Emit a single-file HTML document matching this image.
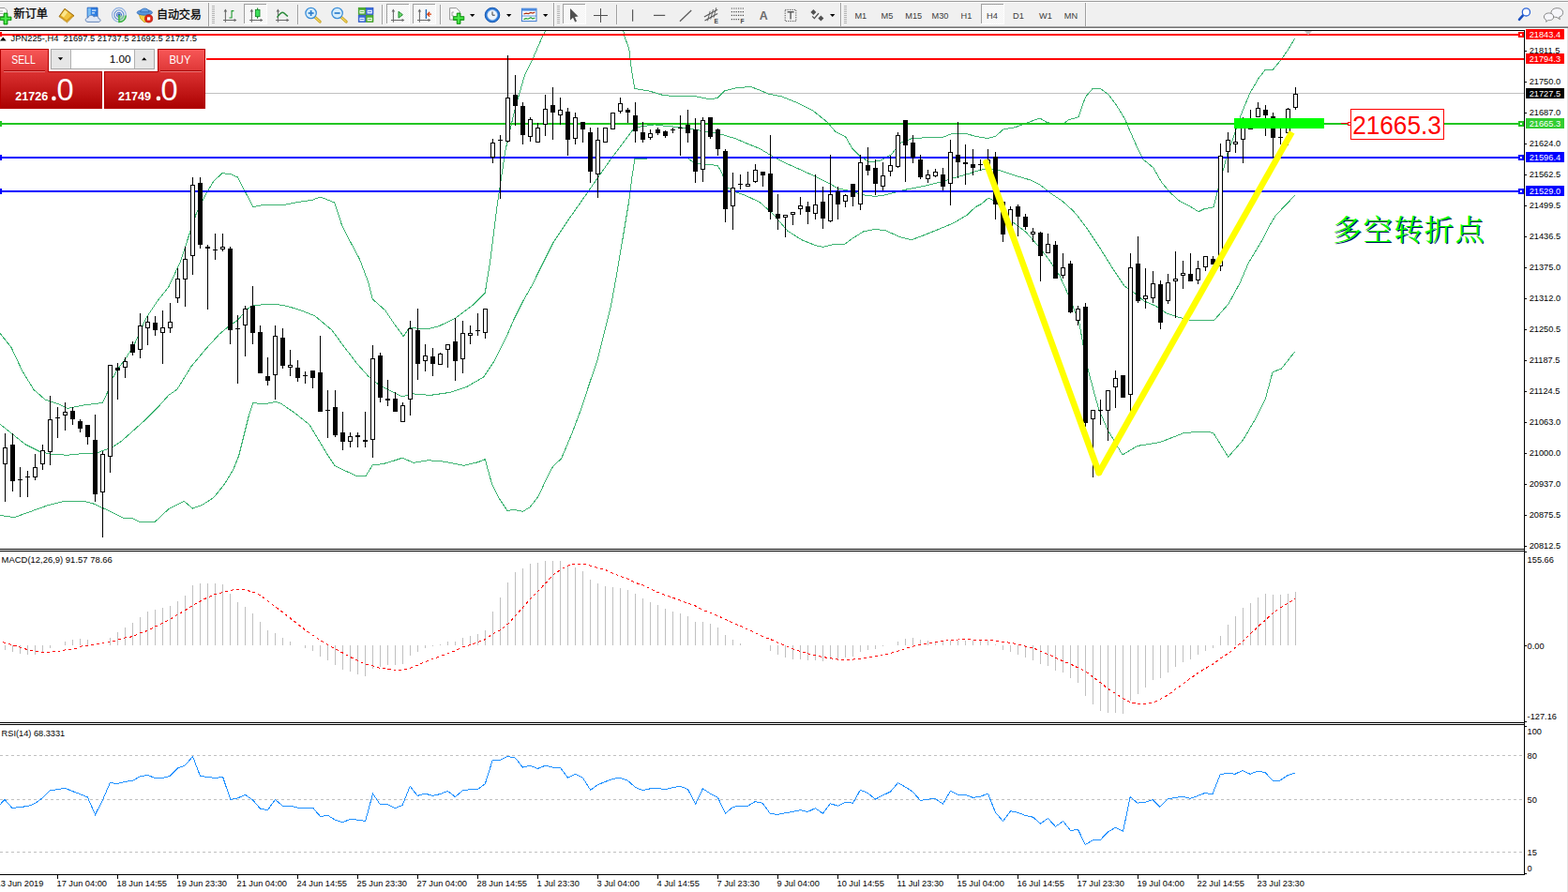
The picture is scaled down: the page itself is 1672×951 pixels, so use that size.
<!DOCTYPE html><html><head><meta charset="utf-8"><title>JPN225 H4</title>
<style>html,body{margin:0;padding:0;background:#fff;overflow:hidden}svg{display:block}text{font-family:"Liberation Sans",sans-serif}</style></head><body>
<svg width="1672" height="951" viewBox="0 0 1672 951">
<defs>
<linearGradient id="gTab" x1="0" y1="0" x2="0" y2="1"><stop offset="0" stop-color="#f85858"/><stop offset="1" stop-color="#dc3434"/></linearGradient>
<linearGradient id="gBlk" x1="0" y1="0" x2="0" y2="1"><stop offset="0" stop-color="#dc3232"/><stop offset="1" stop-color="#aa0000"/></linearGradient>
<pattern id="chk" width="2" height="2" patternUnits="userSpaceOnUse"><rect width="2" height="2" fill="#f0f0f0"/><rect width="1" height="1" fill="#fff"/><rect x="1" y="1" width="1" height="1" fill="#fff"/></pattern>
<clipPath id="cpMain"><rect x="0" y="33" width="1625" height="552"/></clipPath>
</defs>
<rect width="1672" height="951" fill="#fff"/>
<g shape-rendering="crispEdges">
<rect x="0" y="0" width="1672" height="30" fill="#f0f0f0"/>
<rect x="0" y="0" width="1672" height="1" fill="#f4f4f4"/>
<rect x="0" y="1" width="1672" height="1" fill="#9c9c9c"/>
<rect x="0" y="2" width="1672" height="1" fill="#ffffff"/>
<rect x="0" y="28" width="1672" height="1" fill="#a4a4a4"/>
<rect x="0" y="29" width="1672" height="1" fill="#747474"/>
<rect x="0" y="30" width="1672" height="2" fill="#ffffff"/>
<rect x="222" y="3" width="1" height="25" fill="#a0a0a0"/><rect x="223" y="3" width="1" height="25" fill="#fbfbfb"/>
<rect x="317" y="5" width="1" height="21" fill="#a0a0a0"/><rect x="318" y="5" width="1" height="21" fill="#fbfbfb"/>
<rect x="407" y="5" width="1" height="21" fill="#a0a0a0"/><rect x="408" y="5" width="1" height="21" fill="#fbfbfb"/>
<rect x="469" y="5" width="1" height="21" fill="#a0a0a0"/><rect x="470" y="5" width="1" height="21" fill="#fbfbfb"/>
<rect x="590" y="3" width="1" height="25" fill="#a0a0a0"/><rect x="591" y="3" width="1" height="25" fill="#fbfbfb"/>
<rect x="657" y="5" width="1" height="21" fill="#a0a0a0"/><rect x="658" y="5" width="1" height="21" fill="#fbfbfb"/>
<rect x="896" y="3" width="1" height="25" fill="#a0a0a0"/><rect x="897" y="3" width="1" height="25" fill="#fbfbfb"/>
<rect x="1157" y="3" width="1" height="25" fill="#a0a0a0"/><rect x="1158" y="3" width="1" height="25" fill="#fbfbfb"/>
<rect x="226" y="6" width="3" height="1" fill="#b4b4b4"/>
<rect x="226" y="8" width="3" height="1" fill="#b4b4b4"/>
<rect x="226" y="10" width="3" height="1" fill="#b4b4b4"/>
<rect x="226" y="12" width="3" height="1" fill="#b4b4b4"/>
<rect x="226" y="14" width="3" height="1" fill="#b4b4b4"/>
<rect x="226" y="16" width="3" height="1" fill="#b4b4b4"/>
<rect x="226" y="18" width="3" height="1" fill="#b4b4b4"/>
<rect x="226" y="20" width="3" height="1" fill="#b4b4b4"/>
<rect x="226" y="22" width="3" height="1" fill="#b4b4b4"/>
<rect x="226" y="24" width="3" height="1" fill="#b4b4b4"/>
<rect x="594" y="6" width="3" height="1" fill="#b4b4b4"/>
<rect x="594" y="8" width="3" height="1" fill="#b4b4b4"/>
<rect x="594" y="10" width="3" height="1" fill="#b4b4b4"/>
<rect x="594" y="12" width="3" height="1" fill="#b4b4b4"/>
<rect x="594" y="14" width="3" height="1" fill="#b4b4b4"/>
<rect x="594" y="16" width="3" height="1" fill="#b4b4b4"/>
<rect x="594" y="18" width="3" height="1" fill="#b4b4b4"/>
<rect x="594" y="20" width="3" height="1" fill="#b4b4b4"/>
<rect x="594" y="22" width="3" height="1" fill="#b4b4b4"/>
<rect x="594" y="24" width="3" height="1" fill="#b4b4b4"/>
<rect x="900" y="6" width="3" height="1" fill="#b4b4b4"/>
<rect x="900" y="8" width="3" height="1" fill="#b4b4b4"/>
<rect x="900" y="10" width="3" height="1" fill="#b4b4b4"/>
<rect x="900" y="12" width="3" height="1" fill="#b4b4b4"/>
<rect x="900" y="14" width="3" height="1" fill="#b4b4b4"/>
<rect x="900" y="16" width="3" height="1" fill="#b4b4b4"/>
<rect x="900" y="18" width="3" height="1" fill="#b4b4b4"/>
<rect x="900" y="20" width="3" height="1" fill="#b4b4b4"/>
<rect x="900" y="22" width="3" height="1" fill="#b4b4b4"/>
<rect x="900" y="24" width="3" height="1" fill="#b4b4b4"/>
<rect x="260" y="4" width="25" height="22" fill="url(#chk)"/>
<rect x="260" y="4" width="25" height="1" fill="#a0a0a0"/><rect x="260" y="4" width="1" height="22" fill="#a0a0a0"/>
<rect x="260" y="25" width="25" height="1" fill="#fff"/><rect x="284" y="4" width="1" height="22" fill="#fff"/>
<rect x="412" y="4" width="25" height="22" fill="url(#chk)"/>
<rect x="412" y="4" width="25" height="1" fill="#a0a0a0"/><rect x="412" y="4" width="1" height="22" fill="#a0a0a0"/>
<rect x="412" y="25" width="25" height="1" fill="#fff"/><rect x="436" y="4" width="1" height="22" fill="#fff"/>
<rect x="440" y="4" width="25" height="22" fill="url(#chk)"/>
<rect x="440" y="4" width="25" height="1" fill="#a0a0a0"/><rect x="440" y="4" width="1" height="22" fill="#a0a0a0"/>
<rect x="440" y="25" width="25" height="1" fill="#fff"/><rect x="464" y="4" width="1" height="22" fill="#fff"/>
<rect x="600" y="4" width="25" height="22" fill="url(#chk)"/>
<rect x="600" y="4" width="25" height="1" fill="#a0a0a0"/><rect x="600" y="4" width="1" height="22" fill="#a0a0a0"/>
<rect x="600" y="25" width="25" height="1" fill="#fff"/><rect x="624" y="4" width="1" height="22" fill="#fff"/>
<rect x="1046" y="4" width="25" height="22" fill="url(#chk)"/>
<rect x="1046" y="4" width="25" height="1" fill="#a0a0a0"/><rect x="1046" y="4" width="1" height="22" fill="#a0a0a0"/>
<rect x="1046" y="25" width="25" height="1" fill="#fff"/><rect x="1070" y="4" width="1" height="22" fill="#fff"/>
</g>
<path d="M-1 8.5 H5 L7.5 11 V17.5 H-1 Z" fill="#fff" stroke="#909090" stroke-width="0.9"/><path d="M0 12 H3 M0 14.5 H3" stroke="#a0a0a0" stroke-width="0.9"/>
<path d="M4 14 H8 V18 H12 V21.6 H8 V26 H4 V21.6 H0.3 V18 H4 Z" fill="#1fc01f" stroke="#0c8a0c" stroke-width="0.8"/><path d="M5 15 H7 V19 H11 V20.4 H7 V25 H5 V20.4 H1.2 V19 H5 Z" fill="#5af25a" opacity="0.8"/>
<text x="14.6 26.7 38.8" y="18.8" font-size="12.2" fill="#000" stroke="#000" stroke-width="0.27" style="font-family:'Liberation Sans','Noto Sans CJK SC',sans-serif">新订单</text>
<path d="M63 17.6 L69 9.2 L79 16.8 L71.4 24 Z" fill="#d89c1c" stroke="#94680c" stroke-width="0.9" stroke-linejoin="round"/><path d="M64.6 16.8 L69.2 10.6 L76.6 16.2 L71 21.6 Z" fill="#f0c440"/><path d="M65.2 16.2 L69.2 10.8 L72.2 13 L68 18.4 Z" fill="#fbe68c"/><path d="M64 18.8 L71.4 24 L78.4 17.6" fill="none" stroke="#f4e0a0" stroke-width="0.7"/>
<path d="M93.2 8.2 H104 V18.4 H93.2 Z" fill="#2f80e4" stroke="#1858b8" stroke-width="0.9"/><path d="M93.6 8.6 H96.8 V18 H93.6 Z" fill="#7cc0f4"/><path d="M98 10.4 H102.4 V11.8 H98 Z M98 13.2 H101 V14.4 H98 Z" fill="#e4f0fc"/>
<path d="M94 23.4 C90.2 23.4 90.4 19 93.8 19 C94.2 15.8 99.2 15.4 100.2 18 C102 16.4 105.4 17.6 105 19.8 C107.8 19.8 107.8 23.4 105 23.4 Z" fill="#dfe8f6" stroke="#6484b8" stroke-width="1"/>
<g fill="none" stroke-linecap="round"><circle cx="126.9" cy="15.8" r="7.4" stroke="#8fb0e0" stroke-width="1.1"/><circle cx="126.9" cy="15.8" r="5" stroke="#5a8ad4" stroke-width="1.1"/><circle cx="126.9" cy="15.8" r="2.6" stroke="#3a6cc8" stroke-width="1"/></g>
<circle cx="126.9" cy="15.8" r="1.5" fill="#2a5cc0"/><path d="M127 16 V23.4 C131 23.4 134 20.5 134.3 16.5" fill="none" stroke="#3cb43c" stroke-width="1.6"/><path d="M127.6 22.6 C131 22 133 19.5 133.6 16.5 L127.6 16.5 Z" fill="#7fd07f" opacity="0.55"/>
<path d="M148 14.5 L159.5 14 L158 22.5 L154 23.8 L149.8 20 Z" fill="#f4d040" stroke="#c49a18" stroke-width="0.8"/>
<ellipse cx="154.3" cy="13.4" rx="8.2" ry="2.8" fill="#5a96dc" stroke="#2a66b4" stroke-width="0.8"/><path d="M149.6 12.8 C150 7.8 158.6 7.8 159 12.8 Z" fill="#6aa6e8" stroke="#2a66b4" stroke-width="0.8"/>
<circle cx="158.6" cy="19.9" r="4.1" fill="#e02818" stroke="#a81408" stroke-width="0.7"/><rect x="157" y="18.3" width="3.2" height="3.2" fill="#fff"/>
<text x="167 178.9 190.8 202.7" y="19.5" font-size="12.1" fill="#000" stroke="#000" stroke-width="0.27" style="font-family:'Liberation Sans','Noto Sans CJK SC',sans-serif">自动交易</text>
<g stroke="#686868" stroke-width="1.05" fill="none"><path d="M240.4 23.7 V10.5 M238 21.5 H251"/></g><path d="M238.6 12.6 L240.4 9.6 L242.2 12.6 Z M249.6 19.7 L252.4 21.5 L249.6 23.3 Z" fill="#686868"/>
<path d="M246.5 11.1 H249.4 V12.2 H247.6 V19.6 H244.4 V18.5 H246.5 Z" fill="#1e9a2e"/>
<g stroke="#686868" stroke-width="1.05" fill="none"><path d="M268.4 23.7 V10.5 M266 21.5 H279"/></g><path d="M266.6 12.6 L268.4 9.6 L270.2 12.6 Z M277.6 19.7 L280.4 21.5 L277.6 23.3 Z" fill="#686868"/>
<path d="M274.6 8.4 V19.8" stroke="#1e8a2e" stroke-width="1.2"/><rect x="272.4" y="10.4" width="4.6" height="7.2" fill="#3ce05a" stroke="#1e8a2e" stroke-width="0.9"/>
<g stroke="#686868" stroke-width="1.05" fill="none"><path d="M296.4 23.7 V10.5 M294 21.5 H307"/></g><path d="M294.6 12.6 L296.4 9.6 L298.2 12.6 Z M305.6 19.7 L308.4 21.5 L305.6 23.3 Z" fill="#686868"/>
<path d="M295.4 18.6 C297.4 16.4 299 13.2 301.2 13.2 C303.4 13.2 304.6 16.2 307 17.4" fill="none" stroke="#2a8a3a" stroke-width="1.5"/>
<path d="M335.6 18 L341.20000000000005 23.2" stroke="#c8a020" stroke-width="3" stroke-linecap="round"/><path d="M335.6 18 L341.20000000000005 23.2" stroke="#f0d860" stroke-width="1.2" stroke-linecap="round"/>
<circle cx="331.6" cy="14" r="5.7" fill="#d8eefb" stroke="#3c8ed8" stroke-width="1.3"/>
<path d="M328.6 14 H334.6" stroke="#2c7ccc" stroke-width="1.7"/>
<path d="M331.6 11 V17" stroke="#2c7ccc" stroke-width="1.7"/>
<path d="M363.6 18 L369.20000000000005 23.2" stroke="#c8a020" stroke-width="3" stroke-linecap="round"/><path d="M363.6 18 L369.20000000000005 23.2" stroke="#f0d860" stroke-width="1.2" stroke-linecap="round"/>
<circle cx="359.6" cy="14" r="5.7" fill="#d8eefb" stroke="#3c8ed8" stroke-width="1.3"/>
<path d="M356.6 14 H362.6" stroke="#2c7ccc" stroke-width="1.7"/>
<rect x="382.2" y="8.2" width="7.6" height="7.4" fill="#4caf30" stroke="#2f8f18" stroke-width="0.6"/><rect x="383.4" y="10.799999999999999" width="5.2" height="3.6" fill="#fff" opacity="0.92"/><rect x="384.2" y="12.0" width="3.6" height="1" fill="#4caf30" opacity="0.8"/>
<rect x="390.4" y="8.2" width="7.6" height="7.4" fill="#3a6cdc" stroke="#1c48b8" stroke-width="0.6"/><rect x="391.59999999999997" y="10.799999999999999" width="5.2" height="3.6" fill="#fff" opacity="0.92"/><rect x="392.4" y="12.0" width="3.6" height="1" fill="#3a6cdc" opacity="0.8"/>
<rect x="382.2" y="16.2" width="7.6" height="7.4" fill="#3a6cdc" stroke="#1c48b8" stroke-width="0.6"/><rect x="383.4" y="18.8" width="5.2" height="3.6" fill="#fff" opacity="0.92"/><rect x="384.2" y="20.0" width="3.6" height="1" fill="#3a6cdc" opacity="0.8"/>
<rect x="390.4" y="16.2" width="7.6" height="7.4" fill="#4caf30" stroke="#2f8f18" stroke-width="0.6"/><rect x="391.59999999999997" y="18.8" width="5.2" height="3.6" fill="#fff" opacity="0.92"/><rect x="392.4" y="20.0" width="3.6" height="1" fill="#4caf30" opacity="0.8"/>
<g stroke="#686868" stroke-width="1.05" fill="none"><path d="M419.4 23.7 V10.5 M417 21.5 H430"/></g><path d="M417.6 12.6 L419.4 9.6 L421.2 12.6 Z M428.6 19.7 L431.4 21.5 L428.6 23.3 Z" fill="#686868"/>
<path d="M425 12.2 L429.4 15.7 L425 19.2 Z" fill="#6ad86a" stroke="#1e8a2e" stroke-width="1"/>
<g stroke="#686868" stroke-width="1.05" fill="none"><path d="M447.4 23.7 V10.5 M445 21.5 H458"/></g><path d="M445.6 12.6 L447.4 9.6 L449.2 12.6 Z M456.6 19.7 L459.4 21.5 L456.6 23.3 Z" fill="#686868"/>
<path d="M454.4 10 V20" stroke="#1c68b8" stroke-width="1.4"/><path d="M460 15.2 H456.4 M458.2 12.8 L455.8 15.2 L458.2 17.6" fill="none" stroke="#d84010" stroke-width="1.3"/>
<path d="M479.6 8.6 H486.6 L490.2 12 V21 H479.6 Z" fill="#fafafa" stroke="#8c8c8c" stroke-width="0.9"/><path d="M482 13 V17 M482 13 H484 M482 17 H484" fill="none" stroke="#909090" stroke-width="0.8"/>
<path d="M487.2 14 H491 V17.6 H494.8 V21.4 H491 V25.4 H487.2 V21.4 H483.4 V17.6 H487.2 Z" fill="#22c022" stroke="#0c8a0c" stroke-width="0.8"/><path d="M488.2 15 H490 V18.6 H493.8 V20 H490 V24.4 H488.2 V20 H484.4 V18.6 H488.2 Z" fill="#5af25a" opacity="0.8"/>
<path d="M501 15 H506.4 L503.7 18 Z" fill="#000"/>
<path d="M540 15 H545.4 L542.7 18 Z" fill="#000"/>
<path d="M579 15 H584.4 L581.7 18 Z" fill="#000"/>
<path d="M885 15 H890.4 L887.7 18 Z" fill="#000"/>
<circle cx="525" cy="16" r="7.8" fill="#2a7ad8" stroke="#1450a8" stroke-width="0.9"/><circle cx="525" cy="16" r="5.4" fill="#eef4fb" stroke="#9cc0ec" stroke-width="0.6"/><path d="M525 12.4 V16.2 H527.8" fill="none" stroke="#404040" stroke-width="1"/>
<rect x="556.4" y="9.2" width="15.6" height="13.4" fill="#fafcff" stroke="#3a78d0" stroke-width="1"/><rect x="556.4" y="9.2" width="15.6" height="2.4" fill="#4a8ae0"/><path d="M556.4 17 H572" stroke="#3a78d0" stroke-width="0.8"/>
<path d="M558.4 15 L561 14.2 L563.4 14.6 L566 13.4 L568 14 L570.4 13" fill="none" stroke="#b03010" stroke-width="1.2"/><path d="M558.4 20.6 L561 19.6 L563 20.2 L566 18.6 L568 20 L570.4 19" fill="none" stroke="#20a030" stroke-width="1.2"/>
<path d="M608 9 L608 21.4 L611 18.8 L613.2 23.4 L615 22.5 L612.9 18 L616.6 17.6 Z" fill="#505050"/>
<path d="M640.5 9 V23.6 M633 16.4 H648" stroke="#505050" stroke-width="1.1" shape-rendering="crispEdges"/>
<path d="M674.6 10.2 V22.8" stroke="#585858" stroke-width="1.2"/><path d="M697 16.4 H709.2" stroke="#585858" stroke-width="1.2"/><path d="M725 22.8 L737.2 11" stroke="#585858" stroke-width="1.2"/>
<g stroke="#585858" fill="none"><path d="M750.9 17.9 L765.2 10.2 M751.5 22.1 L765.2 14.4" stroke-width="1.1"/><path d="M757.2 11.8 L754.5 22.3 M760.5 10 L757.7 20.5 M763.7 8.2 L761 18.7" stroke-width="0.9"/></g>
<text x="761.6" y="25.4" font-size="6.6" font-weight="bold" fill="#404040">E</text>
<path d="M779.8 9 H793.4" stroke="#505050" stroke-width="1.1" stroke-dasharray="1.2,1.2"/>
<path d="M779.8 12.6 H793.4" stroke="#505050" stroke-width="1.1" stroke-dasharray="1.2,1.2"/>
<path d="M779.8 16.4 H793.4" stroke="#505050" stroke-width="1.1" stroke-dasharray="1.2,1.2"/>
<path d="M779.8 20.6 H788.8" stroke="#505050" stroke-width="1.1" stroke-dasharray="1.2,1.2"/>
<text x="789.6" y="25.4" font-size="6.6" font-weight="bold" fill="#404040">F</text>
<text x="809.8" y="21" font-size="12.4" font-weight="bold" fill="#6a6a6a">A</text>
<rect x="837.2" y="10.4" width="11.6" height="12.2" fill="none" stroke="#505050" stroke-width="1" stroke-dasharray="1.2,1.2"/><path d="M839.6 12.8 H846.6 M843.1 12.8 V20.6" stroke="#585858" stroke-width="1.4"/>
<path d="M864.4 13 L867.4 10 L870.4 13 L867.4 16 Z" fill="#505050"/><path d="M872.4 19.6 L875.4 16.6 L878.4 19.6 L875.4 22.6 Z" fill="#505050"/><path d="M866.2 17.4 L868.4 19.6 L873 14.2" fill="none" stroke="#505050" stroke-width="1.3"/>
<text x="917.8" y="19.9" font-size="9.3" fill="#3c3c3c" text-anchor="middle" textLength="12.8" lengthAdjust="spacingAndGlyphs">M1</text>
<text x="946" y="19.9" font-size="9.3" fill="#3c3c3c" text-anchor="middle" textLength="12.8" lengthAdjust="spacingAndGlyphs">M5</text>
<text x="974.3" y="19.9" font-size="9.3" fill="#3c3c3c" text-anchor="middle" textLength="17.9" lengthAdjust="spacingAndGlyphs">M15</text>
<text x="1002.5" y="19.9" font-size="9.3" fill="#3c3c3c" text-anchor="middle" textLength="17.9" lengthAdjust="spacingAndGlyphs">M30</text>
<text x="1030.5" y="19.9" font-size="9.3" fill="#3c3c3c" text-anchor="middle" textLength="11.8" lengthAdjust="spacingAndGlyphs">H1</text>
<text x="1058" y="19.9" font-size="9.3" fill="#3c3c3c" text-anchor="middle" textLength="11.8" lengthAdjust="spacingAndGlyphs">H4</text>
<text x="1086" y="19.9" font-size="9.3" fill="#3c3c3c" text-anchor="middle" textLength="11.8" lengthAdjust="spacingAndGlyphs">D1</text>
<text x="1115" y="19.9" font-size="9.3" fill="#3c3c3c" text-anchor="middle" textLength="13.8" lengthAdjust="spacingAndGlyphs">W1</text>
<text x="1142" y="19.9" font-size="9.3" fill="#3c3c3c" text-anchor="middle" textLength="14.3" lengthAdjust="spacingAndGlyphs">MN</text>
<path d="M1624.2 16.2 L1620 20.8" stroke="#1c50c0" stroke-width="2.6" stroke-linecap="round"/><circle cx="1627.4" cy="12.9" r="4.1" fill="#fdfdff" stroke="#2c64d8" stroke-width="1.3"/>
<path d="M1654 13.6 C1654 7 1667 7 1666.6 13.6 C1666.4 16.6 1664.4 17.6 1662.6 18 L1663.4 20.6 L1660 18.4 C1656 18.4 1654 16.6 1654 13.6 Z" fill="#f6f6fa" stroke="#7c7c7c" stroke-width="0.9"/>
<path d="M1646.4 18 C1646.4 12.6 1656.8 12.6 1656.6 18 C1656.6 21.2 1653.4 21.8 1650.6 21.6 L1648.8 23.4 L1648.8 21.2 C1647.4 20.6 1646.4 19.6 1646.4 18 Z" fill="#f6f6fa" stroke="#7c7c7c" stroke-width="0.9"/>
<g shape-rendering="crispEdges">
<rect x="0" y="32" width="1626" height="1" fill="#000"/>
<rect x="1625" y="32" width="1" height="901" fill="#000"/>
<rect x="0" y="585" width="1626" height="1" fill="#000"/>
<rect x="0" y="587" width="1626" height="1" fill="#000"/>
<rect x="0" y="770" width="1626" height="1" fill="#000"/>
<rect x="0" y="772" width="1626" height="1" fill="#000"/>
<rect x="0" y="932" width="1626" height="1" fill="#000"/>
<rect x="1671" y="30" width="1" height="921" fill="#e4e4e4"/>
</g>
<g clip-path="url(#cpMain)">
<rect x="0" y="99" width="1625" height="1" fill="#c0c0c0" shape-rendering="crispEdges"/>
<polyline points="0,355.4 12,370.4 24,395.9 36,415.4 47.9,425.9 61.4,430.4 71.9,435.5 89.9,431.9 109.4,429.5 113.9,419.9 119.9,403.4 125.9,392.9 134.9,380.9 143.8,365.9 155.8,339 167.8,321 179.8,306 192,279.8 200.9,252.9 209.9,225.9 218.9,207.9 227.9,192.9 236.9,184.8 245.9,185.4 253.4,189 260.9,203.4 269.9,220.5 281.9,218.4 299.8,219 317.8,215.4 332.8,213.3 341.8,210 356.8,216 364.3,239.4 371.8,254.4 383.7,276.8 392.7,300.8 397.2,318.8 410.7,330.8 419.7,344.3 430.2,358.6 436.4,349.4 455.8,350.9 467.8,347.9 485.8,339 503.8,325.5 517.3,312 522.5,279.7 530,219.8 539,159.9 549.4,114.9 559.9,79 568.9,61 577.9,40 583,30" fill="none" stroke="#3cb371" stroke-width="1" shape-rendering="crispEdges"/>
<polyline points="664,30 666.3,40 670.8,52 673.2,73 676.8,94.5 691.8,96.9 706.8,101.4 721.8,102.9 739.7,102.3 757.7,105.9 765.2,104.4 772.7,96.9 784.7,93.9 800,92.4 810,96 819,100 833.9,103 848.9,109 866.9,118 881.9,130 890.9,140.5 901.4,145.5 908.9,158.4 916.4,165.9 926.8,172.8 938.8,171.3 950.8,164.4 959.8,152.4 971.8,147.9 989.8,146.4 1003.3,147 1016.7,142 1031.7,142.9 1040,145.3 1053,147.5 1061.6,145.3 1070,137.8 1083,135.6 1094,131.3 1109,126 1116.5,130.7 1132.7,133 1139,128 1150,124.8 1157.5,103.3 1165,94.7 1173.6,94.7 1182.3,101 1191,113 1199.5,127 1206,142 1212.5,157 1219,170 1229.7,178.7 1238.3,193.8 1247,204.6 1257.7,214.3 1268.5,219.7 1278,225.7 1283.6,223 1294,220.8 1297.6,206.8 1301,194 1305,178.7 1309.5,161.5 1313.8,150.7 1318,137.8 1322.4,124.8 1326.7,114 1333,99 1341.8,83.9 1349.3,74.2 1357.3,74.2 1365.5,64.5 1373,53.7 1380.6,41.2" fill="none" stroke="#3cb371" stroke-width="1" shape-rendering="crispEdges"/>
<polyline points="0,452.2 12,461.8 27,473.8 42,481.3 53.9,484.3 71.9,485.2 89.9,483.4 101.9,483.4 119.9,476.8 128.9,470.8 140.8,460.3 155.8,446.8 167.8,434.9 179.8,421.4 189,415 203.9,390.7 218.9,372.7 233.9,356.3 242.9,348.8 253.4,341.3 263.9,329.3 269.9,325.4 281.9,324.8 293.8,324.2 305.8,326.3 320.8,330.8 335.8,336.8 353.8,351.8 365.8,368.2 380.7,387.7 392.7,401.2 404.9,410.9 419.9,418.4 428.9,422.9 440.8,419.9 458.8,421.4 479.8,418.4 497.8,412.4 515.8,401.9 527.7,383.9 539.7,359.9 548.7,339 557.7,321 569.7,300 571.9,294.7 589.9,258.8 607.9,231.8 628.9,201.8 649.8,171.9 667.8,147.9 676.8,135.9 697.8,132.9 709.8,134.4 721.8,135.3 736.7,137.4 754.7,140.4 769.7,143.4 784.7,147.9 795,152.4 810,158.4 825,167.4 839.9,174.9 854.9,181.5 869.9,188.4 884.9,195.9 893.9,201.3 902,202.5 911.9,205.5 920.8,207.9 932.8,209.4 940.9,208.5 949,206.4 956.8,204.6 964,202.5 974.8,200.4 989.8,197.4 1004.8,193.5 1019.7,189 1034.7,184.8 1040,182.6 1050.8,180.2 1065.9,181.5 1083,187.4 1098,191.7 1109,197 1119.8,205.7 1132.7,214.3 1143.5,224 1149,230 1160,245 1172,263 1187,287 1199,305 1208,311 1220,321 1232,326 1244,334 1256,338 1268,341 1280,342 1295,341 1310,324 1322,302 1331,281 1340,266 1346,256 1353,242 1360,230 1372,217.5 1380.6,208.5" fill="none" stroke="#3cb371" stroke-width="1" shape-rendering="crispEdges"/>
<polyline points="0,549.3 15,551.7 30,546.3 50.9,538.8 68.9,534.3 89.9,534.6 98.9,536.7 119.9,546.3 131.9,552.6 140.8,552.3 149.8,556.8 164.8,556.8 179.8,542.7 196.3,534.3 205.3,542.1 215.8,538.2 227.7,530.7 239.7,515.8 248.7,500.8 254.7,485.8 260.7,461.8 265.2,443.8 269.7,429.5 281.7,431 293.7,428.3 300,430.4 315,440.8 330,452.8 339,467.8 347.9,482.8 356.9,496.3 368.9,502.3 380.9,507.7 389.9,507.7 397.4,495.7 407.9,494.8 419.9,491.2 428.9,488.2 440.8,493.3 455.8,490.9 467.8,491.2 479.8,493.3 494.8,496.3 509.8,492.7 517.3,489.7 524.5,515.9 532,530.9 541,544.4 548.5,543.5 557.5,545.3 565,540.8 574,529.4 583,509.9 589.6,497.3 598.6,488.9 610,461.9 619,437.9 627.9,410.9 636.9,384 644.4,354 651.9,324 658.8,285.7 664.8,249.8 670.8,213.8 673.8,189.8 676.8,169.5 688.8,169.5 691.8,168.3 730.7,168.3 733.7,168.9 739.7,173.4 754.7,175.5 765.2,176.4 769.7,183.8 774.2,198.8 784.7,204.8 795,208.5 810,215.4 825,228.9 839.9,246.2 854.9,255.8 869.9,261.8 877.4,263.3 887.9,260.9 899.9,260.9 908.9,254.3 920.8,246.8 932.8,244.4 944.8,245.9 959.8,252.8 971.8,255.8 983.8,251.3 998.8,245.3 1016.7,237.8 1031.7,228.9 1040,220.8 1046.5,217.5 1054,211 1062,215 1070,226 1079,236 1094,247.5 1106,261 1118,276 1130,294 1139,314 1145,329 1151,345 1155,368 1160,393 1166,416 1172,437 1181,458 1188,470 1197,485 1213,475.4 1236.8,471.6 1261.4,462 1277.5,460.2 1293.6,461.2 1309.7,487.3 1325.8,468.7 1339,446 1349.4,425.2 1357,396.8 1366.5,393 1380.7,375" fill="none" stroke="#3cb371" stroke-width="1" shape-rendering="crispEdges"/>
<g shape-rendering="crispEdges">
<rect x="0" y="36" width="1625" height="2" fill="#ff0000"/><rect x="0" y="34" width="2" height="5" fill="#ff0000"/>
<rect x="220" y="62" width="1405" height="2" fill="#ff0000"/>
<rect x="0" y="131" width="1625" height="2" fill="#22c622"/><rect x="0" y="129" width="2" height="6" fill="#22c622"/>
<rect x="0" y="167" width="1625" height="2" fill="#0000ff"/><rect x="0" y="165" width="2" height="6" fill="#0000ff"/>
<rect x="0" y="203" width="1625" height="2" fill="#0000ff"/><rect x="0" y="201" width="2" height="6" fill="#0000ff"/>
</g>
<g shape-rendering="crispEdges">
<rect x="5" y="462" width="1" height="73" fill="#000"/>
<rect x="3" y="477" width="5" height="18" fill="#000"/><rect x="4" y="478" width="3" height="16" fill="#fff"/>
<rect x="13" y="462" width="1" height="62" fill="#000"/>
<rect x="11" y="474" width="5" height="39" fill="#000"/>
<rect x="21" y="498" width="1" height="32" fill="#000"/>
<rect x="19" y="511" width="5" height="1" fill="#000"/>
<rect x="29" y="502" width="1" height="28" fill="#000"/>
<rect x="27" y="508" width="5" height="1" fill="#000"/>
<rect x="37" y="484" width="1" height="28" fill="#000"/>
<rect x="35" y="498" width="5" height="11" fill="#000"/><rect x="36" y="499" width="3" height="9" fill="#fff"/>
<rect x="45" y="474" width="1" height="27" fill="#000"/>
<rect x="43" y="480" width="5" height="15" fill="#000"/><rect x="44" y="481" width="3" height="13" fill="#fff"/>
<rect x="53" y="422" width="1" height="74" fill="#000"/>
<rect x="51" y="447" width="5" height="35" fill="#000"/><rect x="52" y="448" width="3" height="33" fill="#fff"/>
<rect x="61" y="434" width="1" height="33" fill="#000"/>
<rect x="59" y="445" width="5" height="1" fill="#000"/>
<rect x="69" y="429" width="1" height="30" fill="#000"/>
<rect x="67" y="439" width="5" height="4" fill="#000"/><rect x="68" y="440" width="3" height="2" fill="#fff"/>
<rect x="77" y="434" width="1" height="19" fill="#000"/>
<rect x="75" y="438" width="5" height="9" fill="#000"/>
<rect x="85" y="447" width="1" height="14" fill="#000"/>
<rect x="83" y="449" width="5" height="8" fill="#000"/>
<rect x="93" y="453" width="1" height="21" fill="#000"/>
<rect x="91" y="453" width="5" height="13" fill="#000"/>
<rect x="101" y="442" width="1" height="93" fill="#000"/>
<rect x="99" y="469" width="5" height="58" fill="#000"/>
<rect x="109" y="481" width="1" height="92" fill="#000"/>
<rect x="107" y="484" width="5" height="41" fill="#000"/><rect x="108" y="485" width="3" height="39" fill="#fff"/>
<rect x="117" y="389" width="1" height="115" fill="#000"/>
<rect x="115" y="389" width="5" height="98" fill="#000"/><rect x="116" y="390" width="3" height="96" fill="#fff"/>
<rect x="125" y="387" width="1" height="39" fill="#000"/>
<rect x="123" y="392" width="5" height="3" fill="#000"/>
<rect x="133" y="381" width="1" height="22" fill="#000"/>
<rect x="131" y="385" width="5" height="7" fill="#000"/><rect x="132" y="386" width="3" height="5" fill="#fff"/>
<rect x="141" y="364" width="1" height="15" fill="#000"/>
<rect x="139" y="367" width="5" height="9" fill="#000"/>
<rect x="149" y="334" width="1" height="48" fill="#000"/>
<rect x="147" y="347" width="5" height="26" fill="#000"/><rect x="148" y="348" width="3" height="24" fill="#fff"/>
<rect x="157" y="337" width="1" height="31" fill="#000"/>
<rect x="155" y="343" width="5" height="7" fill="#000"/><rect x="156" y="344" width="3" height="5" fill="#fff"/>
<rect x="165" y="337" width="1" height="21" fill="#000"/>
<rect x="163" y="344" width="5" height="8" fill="#000"/>
<rect x="173" y="331" width="1" height="57" fill="#000"/>
<rect x="171" y="349" width="5" height="6" fill="#000"/><rect x="172" y="350" width="3" height="4" fill="#fff"/>
<rect x="181" y="323" width="1" height="32" fill="#000"/>
<rect x="179" y="343" width="5" height="7" fill="#000"/><rect x="180" y="344" width="3" height="5" fill="#fff"/>
<rect x="189" y="286" width="1" height="37" fill="#000"/>
<rect x="187" y="297" width="5" height="21" fill="#000"/><rect x="188" y="298" width="3" height="19" fill="#fff"/>
<rect x="197" y="263" width="1" height="64" fill="#000"/>
<rect x="195" y="276" width="5" height="22" fill="#000"/><rect x="196" y="277" width="3" height="20" fill="#fff"/>
<rect x="205" y="189" width="1" height="104" fill="#000"/>
<rect x="203" y="197" width="5" height="76" fill="#000"/><rect x="204" y="198" width="3" height="74" fill="#fff"/>
<rect x="213" y="189" width="1" height="76" fill="#000"/>
<rect x="211" y="195" width="5" height="66" fill="#000"/>
<rect x="221" y="261" width="1" height="69" fill="#000"/>
<rect x="219" y="263" width="5" height="2" fill="#000"/>
<rect x="229" y="249" width="1" height="28" fill="#000"/>
<rect x="227" y="266" width="5" height="1" fill="#000"/>
<rect x="237" y="249" width="1" height="19" fill="#000"/>
<rect x="235" y="263" width="5" height="3" fill="#000"/><rect x="236" y="264" width="3" height="1" fill="#fff"/>
<rect x="245" y="263" width="1" height="104" fill="#000"/>
<rect x="243" y="265" width="5" height="87" fill="#000"/>
<rect x="253" y="336" width="1" height="73" fill="#000"/>
<rect x="251" y="350" width="5" height="1" fill="#000"/>
<rect x="261" y="326" width="1" height="54" fill="#000"/>
<rect x="259" y="329" width="5" height="18" fill="#000"/><rect x="260" y="330" width="3" height="16" fill="#fff"/>
<rect x="269" y="305" width="1" height="62" fill="#000"/>
<rect x="267" y="326" width="5" height="29" fill="#000"/>
<rect x="277" y="347" width="1" height="51" fill="#000"/>
<rect x="275" y="354" width="5" height="44" fill="#000"/>
<rect x="285" y="381" width="1" height="30" fill="#000"/>
<rect x="283" y="401" width="5" height="5" fill="#000"/>
<rect x="293" y="347" width="1" height="79" fill="#000"/>
<rect x="291" y="358" width="5" height="42" fill="#000"/><rect x="292" y="359" width="3" height="40" fill="#fff"/>
<rect x="301" y="350" width="1" height="43" fill="#000"/>
<rect x="299" y="360" width="5" height="30" fill="#000"/>
<rect x="309" y="373" width="1" height="28" fill="#000"/>
<rect x="307" y="389" width="5" height="3" fill="#000"/><rect x="308" y="390" width="3" height="1" fill="#fff"/>
<rect x="317" y="384" width="1" height="23" fill="#000"/>
<rect x="315" y="392" width="5" height="11" fill="#000"/>
<rect x="325" y="396" width="1" height="13" fill="#000"/>
<rect x="323" y="400" width="5" height="1" fill="#000"/>
<rect x="333" y="395" width="1" height="19" fill="#000"/>
<rect x="331" y="395" width="5" height="8" fill="#000"/>
<rect x="341" y="358" width="1" height="81" fill="#000"/>
<rect x="339" y="397" width="5" height="42" fill="#000"/>
<rect x="349" y="416" width="1" height="51" fill="#000"/>
<rect x="347" y="437" width="5" height="1" fill="#000"/>
<rect x="357" y="416" width="1" height="50" fill="#000"/>
<rect x="355" y="434" width="5" height="30" fill="#000"/>
<rect x="365" y="439" width="1" height="41" fill="#000"/>
<rect x="363" y="461" width="5" height="10" fill="#000"/>
<rect x="373" y="461" width="1" height="16" fill="#000"/>
<rect x="371" y="465" width="5" height="6" fill="#000"/><rect x="372" y="466" width="3" height="4" fill="#fff"/>
<rect x="381" y="461" width="1" height="16" fill="#000"/>
<rect x="379" y="464" width="5" height="2" fill="#000"/>
<rect x="389" y="439" width="1" height="38" fill="#000"/>
<rect x="387" y="469" width="5" height="2" fill="#000"/>
<rect x="397" y="368" width="1" height="120" fill="#000"/>
<rect x="395" y="382" width="5" height="87" fill="#000"/><rect x="396" y="383" width="3" height="85" fill="#fff"/>
<rect x="405" y="376" width="1" height="53" fill="#000"/>
<rect x="403" y="379" width="5" height="45" fill="#000"/>
<rect x="413" y="405" width="1" height="28" fill="#000"/>
<rect x="411" y="425" width="5" height="2" fill="#000"/>
<rect x="421" y="418" width="1" height="21" fill="#000"/>
<rect x="419" y="425" width="5" height="14" fill="#000"/>
<rect x="429" y="429" width="1" height="21" fill="#000"/>
<rect x="427" y="432" width="5" height="18" fill="#000"/><rect x="428" y="433" width="3" height="16" fill="#fff"/>
<rect x="437" y="342" width="1" height="101" fill="#000"/>
<rect x="435" y="350" width="5" height="76" fill="#000"/><rect x="436" y="351" width="3" height="74" fill="#fff"/>
<rect x="445" y="329" width="1" height="76" fill="#000"/>
<rect x="443" y="352" width="5" height="36" fill="#000"/>
<rect x="453" y="367" width="1" height="29" fill="#000"/>
<rect x="451" y="379" width="5" height="6" fill="#000"/><rect x="452" y="380" width="3" height="4" fill="#fff"/>
<rect x="461" y="371" width="1" height="30" fill="#000"/>
<rect x="459" y="380" width="5" height="8" fill="#000"/>
<rect x="469" y="376" width="1" height="13" fill="#000"/>
<rect x="467" y="377" width="5" height="12" fill="#000"/><rect x="468" y="378" width="3" height="10" fill="#fff"/>
<rect x="477" y="367" width="1" height="25" fill="#000"/>
<rect x="475" y="367" width="5" height="6" fill="#000"/><rect x="476" y="368" width="3" height="4" fill="#fff"/>
<rect x="485" y="339" width="1" height="67" fill="#000"/>
<rect x="483" y="364" width="5" height="21" fill="#000"/>
<rect x="493" y="342" width="1" height="56" fill="#000"/>
<rect x="491" y="355" width="5" height="28" fill="#000"/><rect x="492" y="356" width="3" height="26" fill="#fff"/>
<rect x="501" y="347" width="1" height="20" fill="#000"/>
<rect x="499" y="355" width="5" height="3" fill="#000"/><rect x="500" y="356" width="3" height="1" fill="#fff"/>
<rect x="509" y="334" width="1" height="24" fill="#000"/>
<rect x="507" y="352" width="5" height="1" fill="#000"/>
<rect x="517" y="329" width="1" height="32" fill="#000"/>
<rect x="515" y="329" width="5" height="26" fill="#000"/><rect x="516" y="330" width="3" height="24" fill="#fff"/>
<rect x="525" y="148" width="1" height="26" fill="#000"/>
<rect x="523" y="152" width="5" height="16" fill="#000"/><rect x="524" y="153" width="3" height="14" fill="#fff"/>
<rect x="533" y="144" width="1" height="68" fill="#000"/>
<rect x="531" y="149" width="5" height="1" fill="#000"/>
<rect x="541" y="59" width="1" height="93" fill="#000"/>
<rect x="539" y="104" width="5" height="47" fill="#000"/><rect x="540" y="105" width="3" height="45" fill="#fff"/>
<rect x="549" y="80" width="1" height="54" fill="#000"/>
<rect x="547" y="101" width="5" height="12" fill="#000"/>
<rect x="557" y="109" width="1" height="45" fill="#000"/>
<rect x="555" y="113" width="5" height="31" fill="#000"/>
<rect x="565" y="125" width="1" height="26" fill="#000"/>
<rect x="563" y="127" width="5" height="19" fill="#000"/><rect x="564" y="128" width="3" height="17" fill="#fff"/>
<rect x="573" y="131" width="1" height="21" fill="#000"/>
<rect x="571" y="136" width="5" height="16" fill="#000"/><rect x="572" y="137" width="3" height="14" fill="#fff"/>
<rect x="581" y="101" width="1" height="44" fill="#000"/>
<rect x="579" y="116" width="5" height="17" fill="#000"/><rect x="580" y="117" width="3" height="15" fill="#fff"/>
<rect x="589" y="93" width="1" height="56" fill="#000"/>
<rect x="587" y="112" width="5" height="8" fill="#000"/>
<rect x="597" y="104" width="1" height="29" fill="#000"/>
<rect x="595" y="117" width="5" height="6" fill="#000"/><rect x="596" y="118" width="3" height="4" fill="#fff"/>
<rect x="605" y="115" width="1" height="51" fill="#000"/>
<rect x="603" y="119" width="5" height="30" fill="#000"/>
<rect x="613" y="120" width="1" height="34" fill="#000"/>
<rect x="611" y="125" width="5" height="23" fill="#000"/><rect x="612" y="126" width="3" height="21" fill="#fff"/>
<rect x="621" y="130" width="1" height="22" fill="#000"/>
<rect x="619" y="130" width="5" height="8" fill="#000"/>
<rect x="629" y="136" width="1" height="59" fill="#000"/>
<rect x="627" y="141" width="5" height="42" fill="#000"/>
<rect x="637" y="136" width="1" height="75" fill="#000"/>
<rect x="635" y="149" width="5" height="37" fill="#000"/><rect x="636" y="150" width="3" height="35" fill="#fff"/>
<rect x="645" y="136" width="1" height="16" fill="#000"/>
<rect x="643" y="136" width="5" height="16" fill="#000"/><rect x="644" y="137" width="3" height="14" fill="#fff"/>
<rect x="653" y="120" width="1" height="18" fill="#000"/>
<rect x="651" y="120" width="5" height="18" fill="#000"/><rect x="652" y="121" width="3" height="16" fill="#fff"/>
<rect x="661" y="104" width="1" height="17" fill="#000"/>
<rect x="659" y="110" width="5" height="9" fill="#000"/><rect x="660" y="111" width="3" height="7" fill="#fff"/>
<rect x="669" y="115" width="1" height="16" fill="#000"/>
<rect x="667" y="117" width="5" height="3" fill="#000"/>
<rect x="677" y="109" width="1" height="43" fill="#000"/>
<rect x="675" y="123" width="5" height="17" fill="#000"/>
<rect x="685" y="130" width="1" height="22" fill="#000"/>
<rect x="683" y="141" width="5" height="8" fill="#000"/>
<rect x="693" y="138" width="1" height="11" fill="#000"/>
<rect x="691" y="142" width="5" height="5" fill="#000"/><rect x="692" y="143" width="3" height="3" fill="#fff"/>
<rect x="701" y="136" width="1" height="8" fill="#000"/>
<rect x="699" y="138" width="5" height="4" fill="#000"/>
<rect x="709" y="139" width="1" height="8" fill="#000"/>
<rect x="707" y="140" width="5" height="5" fill="#000"/>
<rect x="717" y="136" width="1" height="6" fill="#000"/>
<rect x="715" y="138" width="5" height="1" fill="#000"/>
<rect x="725" y="123" width="1" height="43" fill="#000"/>
<rect x="723" y="136" width="5" height="1" fill="#000"/>
<rect x="733" y="117" width="1" height="35" fill="#000"/>
<rect x="731" y="133" width="5" height="9" fill="#000"/>
<rect x="741" y="126" width="1" height="69" fill="#000"/>
<rect x="739" y="138" width="5" height="45" fill="#000"/>
<rect x="749" y="125" width="1" height="69" fill="#000"/>
<rect x="747" y="128" width="5" height="53" fill="#000"/><rect x="748" y="129" width="3" height="51" fill="#fff"/>
<rect x="757" y="125" width="1" height="23" fill="#000"/>
<rect x="755" y="125" width="5" height="21" fill="#000"/>
<rect x="765" y="137" width="1" height="29" fill="#000"/>
<rect x="763" y="138" width="5" height="21" fill="#000"/>
<rect x="773" y="159" width="1" height="78" fill="#000"/>
<rect x="771" y="161" width="5" height="62" fill="#000"/>
<rect x="781" y="184" width="1" height="61" fill="#000"/>
<rect x="779" y="200" width="5" height="20" fill="#000"/><rect x="780" y="201" width="3" height="18" fill="#fff"/>
<rect x="789" y="186" width="1" height="16" fill="#000"/>
<rect x="787" y="196" width="5" height="1" fill="#000"/>
<rect x="797" y="183" width="1" height="16" fill="#000"/>
<rect x="795" y="196" width="5" height="3" fill="#000"/><rect x="796" y="197" width="3" height="1" fill="#fff"/>
<rect x="805" y="175" width="1" height="20" fill="#000"/>
<rect x="803" y="181" width="5" height="13" fill="#000"/><rect x="804" y="182" width="3" height="11" fill="#fff"/>
<rect x="813" y="183" width="1" height="16" fill="#000"/>
<rect x="811" y="183" width="5" height="4" fill="#000"/>
<rect x="821" y="144" width="1" height="90" fill="#000"/>
<rect x="819" y="185" width="5" height="41" fill="#000"/>
<rect x="829" y="207" width="1" height="38" fill="#000"/>
<rect x="827" y="228" width="5" height="5" fill="#000"/>
<rect x="837" y="229" width="1" height="24" fill="#000"/>
<rect x="835" y="229" width="5" height="3" fill="#000"/><rect x="836" y="230" width="3" height="1" fill="#fff"/>
<rect x="845" y="226" width="1" height="14" fill="#000"/>
<rect x="843" y="226" width="5" height="3" fill="#000"/><rect x="844" y="227" width="3" height="1" fill="#fff"/>
<rect x="853" y="210" width="1" height="19" fill="#000"/>
<rect x="851" y="219" width="5" height="4" fill="#000"/><rect x="852" y="220" width="3" height="2" fill="#fff"/>
<rect x="861" y="215" width="1" height="24" fill="#000"/>
<rect x="859" y="220" width="5" height="6" fill="#000"/>
<rect x="869" y="186" width="1" height="48" fill="#000"/>
<rect x="867" y="218" width="5" height="10" fill="#000"/><rect x="868" y="219" width="3" height="8" fill="#fff"/>
<rect x="877" y="199" width="1" height="45" fill="#000"/>
<rect x="875" y="215" width="5" height="18" fill="#000"/>
<rect x="885" y="165" width="1" height="72" fill="#000"/>
<rect x="883" y="207" width="5" height="29" fill="#000"/><rect x="884" y="208" width="3" height="27" fill="#fff"/>
<rect x="893" y="199" width="1" height="35" fill="#000"/>
<rect x="891" y="204" width="5" height="14" fill="#000"/>
<rect x="901" y="207" width="1" height="14" fill="#000"/>
<rect x="899" y="208" width="5" height="7" fill="#000"/><rect x="900" y="209" width="3" height="5" fill="#fff"/>
<rect x="909" y="196" width="1" height="24" fill="#000"/>
<rect x="907" y="196" width="5" height="14" fill="#000"/>
<rect x="917" y="165" width="1" height="59" fill="#000"/>
<rect x="915" y="173" width="5" height="45" fill="#000"/><rect x="916" y="174" width="3" height="43" fill="#fff"/>
<rect x="925" y="157" width="1" height="30" fill="#000"/>
<rect x="923" y="176" width="5" height="6" fill="#000"/>
<rect x="933" y="170" width="1" height="38" fill="#000"/>
<rect x="931" y="179" width="5" height="17" fill="#000"/>
<rect x="941" y="173" width="1" height="30" fill="#000"/>
<rect x="939" y="187" width="5" height="12" fill="#000"/><rect x="940" y="188" width="3" height="10" fill="#fff"/>
<rect x="949" y="166" width="1" height="22" fill="#000"/>
<rect x="947" y="176" width="5" height="7" fill="#000"/><rect x="948" y="177" width="3" height="5" fill="#fff"/>
<rect x="957" y="141" width="1" height="38" fill="#000"/>
<rect x="955" y="144" width="5" height="34" fill="#000"/><rect x="956" y="145" width="3" height="32" fill="#fff"/>
<rect x="965" y="128" width="1" height="66" fill="#000"/>
<rect x="963" y="128" width="5" height="27" fill="#000"/>
<rect x="973" y="144" width="1" height="30" fill="#000"/>
<rect x="971" y="152" width="5" height="16" fill="#000"/>
<rect x="981" y="165" width="1" height="26" fill="#000"/>
<rect x="979" y="170" width="5" height="19" fill="#000"/>
<rect x="989" y="181" width="1" height="14" fill="#000"/>
<rect x="987" y="186" width="5" height="5" fill="#000"/><rect x="988" y="187" width="3" height="3" fill="#fff"/>
<rect x="997" y="180" width="1" height="9" fill="#000"/>
<rect x="995" y="183" width="5" height="5" fill="#000"/><rect x="996" y="184" width="3" height="3" fill="#fff"/>
<rect x="1005" y="179" width="1" height="24" fill="#000"/>
<rect x="1003" y="186" width="5" height="13" fill="#000"/>
<rect x="1013" y="149" width="1" height="70" fill="#000"/>
<rect x="1011" y="162" width="5" height="34" fill="#000"/><rect x="1012" y="163" width="3" height="32" fill="#fff"/>
<rect x="1021" y="130" width="1" height="60" fill="#000"/>
<rect x="1019" y="165" width="5" height="8" fill="#000"/>
<rect x="1029" y="154" width="1" height="43" fill="#000"/>
<rect x="1027" y="173" width="5" height="2" fill="#000"/>
<rect x="1037" y="159" width="1" height="28" fill="#000"/>
<rect x="1035" y="175" width="5" height="4" fill="#000"/>
<rect x="1045" y="170" width="1" height="12" fill="#000"/>
<rect x="1043" y="175" width="5" height="1" fill="#000"/>
<rect x="1053" y="159" width="1" height="19" fill="#000"/>
<rect x="1051" y="170" width="5" height="6" fill="#000"/><rect x="1052" y="171" width="3" height="4" fill="#fff"/>
<rect x="1061" y="162" width="1" height="72" fill="#000"/>
<rect x="1059" y="167" width="5" height="51" fill="#000"/>
<rect x="1069" y="215" width="1" height="43" fill="#000"/>
<rect x="1067" y="215" width="5" height="35" fill="#000"/>
<rect x="1077" y="220" width="1" height="24" fill="#000"/>
<rect x="1075" y="223" width="5" height="18" fill="#000"/><rect x="1076" y="224" width="3" height="16" fill="#fff"/>
<rect x="1085" y="218" width="1" height="34" fill="#000"/>
<rect x="1083" y="220" width="5" height="11" fill="#000"/>
<rect x="1093" y="228" width="1" height="17" fill="#000"/>
<rect x="1091" y="231" width="5" height="11" fill="#000"/>
<rect x="1101" y="243" width="1" height="15" fill="#000"/>
<rect x="1099" y="247" width="5" height="3" fill="#000"/><rect x="1100" y="248" width="3" height="1" fill="#fff"/>
<rect x="1109" y="247" width="1" height="53" fill="#000"/>
<rect x="1107" y="248" width="5" height="25" fill="#000"/>
<rect x="1117" y="249" width="1" height="21" fill="#000"/>
<rect x="1115" y="260" width="5" height="10" fill="#000"/><rect x="1116" y="261" width="3" height="8" fill="#fff"/>
<rect x="1125" y="257" width="1" height="40" fill="#000"/>
<rect x="1123" y="261" width="5" height="36" fill="#000"/>
<rect x="1133" y="270" width="1" height="27" fill="#000"/>
<rect x="1131" y="285" width="5" height="9" fill="#000"/><rect x="1132" y="286" width="3" height="7" fill="#fff"/>
<rect x="1141" y="278" width="1" height="56" fill="#000"/>
<rect x="1139" y="281" width="5" height="52" fill="#000"/>
<rect x="1149" y="326" width="1" height="21" fill="#000"/>
<rect x="1147" y="329" width="5" height="13" fill="#000"/><rect x="1148" y="330" width="3" height="11" fill="#fff"/>
<rect x="1157" y="323" width="1" height="132" fill="#000"/>
<rect x="1155" y="327" width="5" height="124" fill="#000"/>
<rect x="1165" y="437" width="1" height="72" fill="#000"/>
<rect x="1163" y="437" width="5" height="10" fill="#000"/><rect x="1164" y="438" width="3" height="8" fill="#fff"/>
<rect x="1173" y="426" width="1" height="27" fill="#000"/>
<rect x="1171" y="437" width="5" height="1" fill="#000"/>
<rect x="1181" y="416" width="1" height="54" fill="#000"/>
<rect x="1179" y="416" width="5" height="22" fill="#000"/><rect x="1180" y="417" width="3" height="20" fill="#fff"/>
<rect x="1189" y="395" width="1" height="40" fill="#000"/>
<rect x="1187" y="403" width="5" height="10" fill="#000"/><rect x="1188" y="404" width="3" height="8" fill="#fff"/>
<rect x="1197" y="400" width="1" height="24" fill="#000"/>
<rect x="1195" y="400" width="5" height="24" fill="#000"/>
<rect x="1205" y="270" width="1" height="169" fill="#000"/>
<rect x="1203" y="285" width="5" height="136" fill="#000"/><rect x="1204" y="286" width="3" height="134" fill="#fff"/>
<rect x="1213" y="252" width="1" height="71" fill="#000"/>
<rect x="1211" y="281" width="5" height="40" fill="#000"/>
<rect x="1221" y="286" width="1" height="43" fill="#000"/>
<rect x="1219" y="315" width="5" height="4" fill="#000"/><rect x="1220" y="316" width="3" height="2" fill="#fff"/>
<rect x="1229" y="289" width="1" height="34" fill="#000"/>
<rect x="1227" y="302" width="5" height="16" fill="#000"/><rect x="1228" y="303" width="3" height="14" fill="#fff"/>
<rect x="1237" y="299" width="1" height="52" fill="#000"/>
<rect x="1235" y="303" width="5" height="41" fill="#000"/>
<rect x="1245" y="292" width="1" height="32" fill="#000"/>
<rect x="1243" y="301" width="5" height="20" fill="#000"/><rect x="1244" y="302" width="3" height="18" fill="#fff"/>
<rect x="1253" y="268" width="1" height="71" fill="#000"/>
<rect x="1251" y="297" width="5" height="3" fill="#000"/><rect x="1252" y="298" width="3" height="1" fill="#fff"/>
<rect x="1261" y="278" width="1" height="30" fill="#000"/>
<rect x="1259" y="291" width="5" height="3" fill="#000"/><rect x="1260" y="292" width="3" height="1" fill="#fff"/>
<rect x="1269" y="270" width="1" height="30" fill="#000"/>
<rect x="1267" y="292" width="5" height="8" fill="#000"/>
<rect x="1277" y="278" width="1" height="25" fill="#000"/>
<rect x="1275" y="286" width="5" height="13" fill="#000"/><rect x="1276" y="287" width="3" height="11" fill="#fff"/>
<rect x="1285" y="273" width="1" height="16" fill="#000"/>
<rect x="1283" y="273" width="5" height="12" fill="#000"/><rect x="1284" y="274" width="3" height="10" fill="#fff"/>
<rect x="1293" y="273" width="1" height="9" fill="#000"/>
<rect x="1291" y="276" width="5" height="6" fill="#000"/>
<rect x="1301" y="153" width="1" height="136" fill="#000"/>
<rect x="1299" y="166" width="5" height="118" fill="#000"/><rect x="1300" y="167" width="3" height="116" fill="#fff"/>
<rect x="1309" y="141" width="1" height="43" fill="#000"/>
<rect x="1307" y="149" width="5" height="13" fill="#000"/><rect x="1308" y="150" width="3" height="11" fill="#fff"/>
<rect x="1317" y="137" width="1" height="26" fill="#000"/>
<rect x="1315" y="151" width="5" height="3" fill="#000"/><rect x="1316" y="152" width="3" height="1" fill="#fff"/>
<rect x="1325" y="125" width="1" height="49" fill="#000"/>
<rect x="1323" y="126" width="5" height="23" fill="#000"/><rect x="1324" y="127" width="3" height="21" fill="#fff"/>
<rect x="1333" y="117" width="1" height="21" fill="#000"/>
<rect x="1331" y="137" width="5" height="1" fill="#000"/>
<rect x="1341" y="109" width="1" height="16" fill="#000"/>
<rect x="1339" y="115" width="5" height="10" fill="#000"/><rect x="1340" y="116" width="3" height="8" fill="#fff"/>
<rect x="1349" y="112" width="1" height="33" fill="#000"/>
<rect x="1347" y="117" width="5" height="6" fill="#000"/>
<rect x="1357" y="120" width="1" height="48" fill="#000"/>
<rect x="1355" y="124" width="5" height="23" fill="#000"/>
<rect x="1365" y="137" width="1" height="17" fill="#000"/>
<rect x="1363" y="146" width="5" height="1" fill="#000"/>
<rect x="1373" y="115" width="1" height="40" fill="#000"/>
<rect x="1371" y="116" width="5" height="26" fill="#000"/><rect x="1372" y="117" width="3" height="24" fill="#fff"/>
<rect x="1381" y="93" width="1" height="24" fill="#000"/>
<rect x="1379" y="100" width="5" height="15" fill="#000"/><rect x="1380" y="101" width="3" height="13" fill="#fff"/>
</g>
<g shape-rendering="crispEdges">
<rect x="1619" y="34" width="6" height="6" fill="#ff0000"/><rect x="1621" y="36" width="2" height="2" fill="#fff"/>
<rect x="1619" y="129" width="6" height="6" fill="#22c622"/><rect x="1621" y="131" width="2" height="2" fill="#fff"/>
<rect x="1619" y="165" width="6" height="6" fill="#0000ff"/><rect x="1621" y="167" width="2" height="2" fill="#fff"/>
<rect x="1619" y="201" width="6" height="6" fill="#0000ff"/><rect x="1621" y="203" width="2" height="2" fill="#fff"/>
</g>
<g stroke="#ffff00" stroke-width="6.6" fill="none"><line x1="1051.5" y1="173.2" x2="1171.8" y2="504" stroke-linecap="round"/><line x1="1171.8" y1="504" x2="1377.6" y2="140.8" stroke-linecap="butt"/></g><circle cx="1171.8" cy="504" r="3.3" fill="#ffff00"/>
<rect x="1316" y="126" width="96" height="11" fill="#00ff00" shape-rendering="crispEdges"/>
<g shape-rendering="crispEdges"><rect x="1430" y="131" width="8" height="1" fill="#ff0000"/><rect x="1437" y="130" width="4" height="4" fill="#ff0000"/><rect x="1438" y="131" width="2" height="2" fill="#fff"/>
<rect x="1440.5" y="116.5" width="99" height="32" fill="#fff" stroke="#ff0000" stroke-width="1"/></g>
<text x="1442.2" y="143" font-size="27.2" fill="#ff0000" textLength="94.6" lengthAdjust="spacingAndGlyphs">21665.3</text>
<path d="M1391 33 L1399 33 L1395 37.5 Z" fill="#c0c0c0"/>
<text x="1422.2 1454.8 1487.4 1520 1552.6" y="257" font-size="31" fill="#001060" style="font-family:'Liberation Serif','Noto Serif CJK SC',serif">多空转折点</text>
<text x="1421 1453.6 1486.2 1518.8 1551.4" y="255.8" font-size="31" fill="#00ff00" style="font-family:'Liberation Serif','Noto Serif CJK SC',serif">多空转折点</text>
</g>
<path d="M0 43.6 L3.3 39.4 L6.6 43.6 Z" fill="#000"/>
<text x="11.6" y="44" font-size="9.3" fill="#000" textLength="198.4" lengthAdjust="spacingAndGlyphs" xml:space="preserve">JPN225-,H4  21697.5 21737.5 21692.5 21727.5</text>
<g shape-rendering="crispEdges">
<rect x="0" y="52" width="219" height="64" fill="#fff"/>
<rect x="0" y="52" width="52" height="26" fill="url(#gTab)"/>
<rect x="0" y="76" width="109" height="40" fill="url(#gBlk)"/>
<rect x="168" y="52" width="51" height="26" fill="url(#gTab)"/>
<rect x="111" y="76" width="108" height="40" fill="url(#gBlk)"/>
<path d="M0.5 52.5 H51.5 V76.5 H108.5 V115.5 H0.5 Z" fill="none" stroke="#b40000" stroke-width="1"/>
<path d="M218.5 52.5 H168.5 V76.5 H111.5 V115.5 H218.5 Z" fill="none" stroke="#b40000" stroke-width="1"/>
<rect x="4" y="75" width="44" height="1" fill="#a80808"/><rect x="4" y="76" width="44" height="1" fill="#f07878"/><rect x="171" y="75" width="44" height="1" fill="#a80808"/><rect x="171" y="76" width="44" height="1" fill="#f07878"/>
<rect x="54" y="52" width="111" height="22" fill="#fff"/>
<rect x="54.5" y="52.5" width="110" height="21" fill="#fff" stroke="#a8a8a8"/>
<rect x="55" y="53" width="20" height="20" fill="#e6e6e6"/><rect x="75" y="53" width="1" height="20" fill="#b0b0b0"/>
<rect x="144" y="53" width="20" height="20" fill="#e6e6e6"/><rect x="143" y="53" width="1" height="20" fill="#b0b0b0"/>
</g>
<path d="M61.8 61.3 L67.2 61.3 L64.5 64.3 Z" fill="#000"/>
<path d="M151 64.3 L156.4 64.3 L153.7 61.3 Z" fill="#000"/>
<text x="139.6" y="67" font-size="11.8" fill="#000" text-anchor="end">1.00</text>
<text x="12.2" y="67.7" font-size="12.2" fill="#fff" textLength="25.5" lengthAdjust="spacingAndGlyphs">SELL</text>
<text x="180.4" y="67.7" font-size="12.2" fill="#fff" textLength="23" lengthAdjust="spacingAndGlyphs">BUY</text>
<text x="16.2" y="107" font-size="12.4" font-weight="bold" fill="#fff" textLength="35" lengthAdjust="spacingAndGlyphs">21726</text>
<text x="126" y="107" font-size="12.4" font-weight="bold" fill="#fff" textLength="35" lengthAdjust="spacingAndGlyphs">21749</text>
<circle cx="57.4" cy="104.9" r="2.3" fill="#fff"/><circle cx="168.9" cy="104.9" r="2.3" fill="#fff"/>
<text x="60.5" y="107.2" font-size="32.5" fill="#fff">0</text>
<text x="171.6" y="107.2" font-size="32.5" fill="#fff">0</text>
<g shape-rendering="crispEdges">
<rect x="1626" y="54" width="2" height="1" fill="#000"/>
<rect x="1626" y="87" width="2" height="1" fill="#000"/>
<rect x="1626" y="120" width="2" height="1" fill="#000"/>
<rect x="1626" y="153" width="2" height="1" fill="#000"/>
<rect x="1626" y="186" width="2" height="1" fill="#000"/>
<rect x="1626" y="219" width="2" height="1" fill="#000"/>
<rect x="1626" y="252" width="2" height="1" fill="#000"/>
<rect x="1626" y="285" width="2" height="1" fill="#000"/>
<rect x="1626" y="318" width="2" height="1" fill="#000"/>
<rect x="1626" y="351" width="2" height="1" fill="#000"/>
<rect x="1626" y="384" width="2" height="1" fill="#000"/>
<rect x="1626" y="417" width="2" height="1" fill="#000"/>
<rect x="1626" y="450" width="2" height="1" fill="#000"/>
<rect x="1626" y="483" width="2" height="1" fill="#000"/>
<rect x="1626" y="516" width="2" height="1" fill="#000"/>
<rect x="1626" y="549" width="2" height="1" fill="#000"/>
<rect x="1626" y="582" width="2" height="1" fill="#000"/>
<rect x="1626" y="688" width="2" height="1" fill="#000"/>
<rect x="1626" y="769" width="2" height="1" fill="#000"/><rect x="1626" y="774" width="2" height="1" fill="#000"/><rect x="1626" y="588" width="2" height="1" fill="#000"/><rect x="1626" y="931" width="2" height="1" fill="#000"/>
</g>
<text x="1630.7" y="57.3" font-size="9.3" fill="#000" textLength="32.7" lengthAdjust="spacingAndGlyphs" xml:space="preserve" >21811.5</text>
<text x="1630.7" y="90.3" font-size="9.3" fill="#000" textLength="33.4" lengthAdjust="spacingAndGlyphs" xml:space="preserve" >21750.0</text>
<text x="1630.7" y="123.3" font-size="9.3" fill="#000" textLength="33.4" lengthAdjust="spacingAndGlyphs" xml:space="preserve" >21687.0</text>
<text x="1630.7" y="156.3" font-size="9.3" fill="#000" textLength="33.4" lengthAdjust="spacingAndGlyphs" xml:space="preserve" >21624.0</text>
<text x="1630.7" y="189.3" font-size="9.3" fill="#000" textLength="33.4" lengthAdjust="spacingAndGlyphs" xml:space="preserve" >21562.5</text>
<text x="1630.7" y="222.3" font-size="9.3" fill="#000" textLength="33.4" lengthAdjust="spacingAndGlyphs" xml:space="preserve" >21499.5</text>
<text x="1630.7" y="255.3" font-size="9.3" fill="#000" textLength="33.4" lengthAdjust="spacingAndGlyphs" xml:space="preserve" >21436.5</text>
<text x="1630.7" y="288.3" font-size="9.3" fill="#000" textLength="33.4" lengthAdjust="spacingAndGlyphs" xml:space="preserve" >21375.0</text>
<text x="1630.7" y="321.3" font-size="9.3" fill="#000" textLength="33.4" lengthAdjust="spacingAndGlyphs" xml:space="preserve" >21312.0</text>
<text x="1630.7" y="354.3" font-size="9.3" fill="#000" textLength="33.4" lengthAdjust="spacingAndGlyphs" xml:space="preserve" >21250.5</text>
<text x="1630.7" y="387.3" font-size="9.3" fill="#000" textLength="32.7" lengthAdjust="spacingAndGlyphs" xml:space="preserve" >21187.5</text>
<text x="1630.7" y="420.3" font-size="9.3" fill="#000" textLength="32.7" lengthAdjust="spacingAndGlyphs" xml:space="preserve" >21124.5</text>
<text x="1630.7" y="453.3" font-size="9.3" fill="#000" textLength="33.4" lengthAdjust="spacingAndGlyphs" xml:space="preserve" >21063.0</text>
<text x="1630.7" y="486.3" font-size="9.3" fill="#000" textLength="33.4" lengthAdjust="spacingAndGlyphs" xml:space="preserve" >21000.0</text>
<text x="1630.7" y="519.3" font-size="9.3" fill="#000" textLength="33.4" lengthAdjust="spacingAndGlyphs" xml:space="preserve" >20937.0</text>
<text x="1630.7" y="552.3" font-size="9.3" fill="#000" textLength="33.4" lengthAdjust="spacingAndGlyphs" xml:space="preserve" >20875.5</text>
<text x="1630.7" y="585.3" font-size="9.3" fill="#000" textLength="33.4" lengthAdjust="spacingAndGlyphs" xml:space="preserve" >20812.5</text>
<rect x="1627" y="31" width="41" height="11" fill="#ff0000" shape-rendering="crispEdges"/>
<text x="1630.7" y="40.1" font-size="9.3" fill="#fff" textLength="33.4" lengthAdjust="spacingAndGlyphs" xml:space="preserve" >21843.4</text>
<rect x="1627" y="57" width="41" height="11" fill="#ff0000" shape-rendering="crispEdges"/>
<text x="1630.7" y="66.1" font-size="9.3" fill="#fff" textLength="33.4" lengthAdjust="spacingAndGlyphs" xml:space="preserve" >21794.3</text>
<rect x="1627" y="94" width="41" height="11" fill="#000000" shape-rendering="crispEdges"/>
<text x="1630.7" y="103.1" font-size="9.3" fill="#fff" textLength="33.4" lengthAdjust="spacingAndGlyphs" xml:space="preserve" >21727.5</text>
<rect x="1627" y="126" width="41" height="11" fill="#32cd32" shape-rendering="crispEdges"/>
<text x="1630.7" y="135.1" font-size="9.3" fill="#fff" textLength="33.4" lengthAdjust="spacingAndGlyphs" xml:space="preserve" >21665.3</text>
<rect x="1627" y="162" width="41" height="11" fill="#0000ff" shape-rendering="crispEdges"/>
<text x="1630.7" y="171.1" font-size="9.3" fill="#fff" textLength="33.4" lengthAdjust="spacingAndGlyphs" xml:space="preserve" >21596.4</text>
<rect x="1627" y="198" width="41" height="11" fill="#0000ff" shape-rendering="crispEdges"/>
<text x="1630.7" y="207.1" font-size="9.3" fill="#fff" textLength="33.4" lengthAdjust="spacingAndGlyphs" xml:space="preserve" >21529.0</text>
<text x="1628.6" y="600" font-size="9.3" fill="#000" textLength="28.3" lengthAdjust="spacingAndGlyphs" xml:space="preserve" >155.66</text>
<text x="1628.6" y="691.5" font-size="9.3" fill="#000" textLength="18.0" lengthAdjust="spacingAndGlyphs" xml:space="preserve" >0.00</text>
<text x="1628.6" y="767" font-size="9.3" fill="#000" textLength="31.4" lengthAdjust="spacingAndGlyphs" xml:space="preserve" >-127.16</text>
<text x="1628.6" y="783" font-size="9.3" fill="#000" textLength="15.4" lengthAdjust="spacingAndGlyphs" xml:space="preserve" >100</text>
<text x="1628.6" y="809" font-size="9.3" fill="#000" textLength="10.3" lengthAdjust="spacingAndGlyphs" xml:space="preserve" >80</text>
<text x="1628.6" y="856" font-size="9.3" fill="#000" textLength="10.3" lengthAdjust="spacingAndGlyphs" xml:space="preserve" >50</text>
<text x="1628.6" y="912" font-size="9.3" fill="#000" textLength="10.3" lengthAdjust="spacingAndGlyphs" xml:space="preserve" >15</text>
<text x="1628.6" y="929" font-size="9.3" fill="#000" textLength="5.1" lengthAdjust="spacingAndGlyphs" xml:space="preserve" >0</text>
<text x="1.6" y="600" font-size="9.3" fill="#000" textLength="118.2" lengthAdjust="spacingAndGlyphs">MACD(12,26,9) 91.57 78.66</text>
<g shape-rendering="crispEdges" fill="#c0c0c0">
<rect x="5" y="688" width="1" height="5"/>
<rect x="13" y="688" width="1" height="7"/>
<rect x="21" y="688" width="1" height="9"/>
<rect x="29" y="688" width="1" height="10"/>
<rect x="37" y="688" width="1" height="10"/>
<rect x="45" y="688" width="1" height="8"/>
<rect x="53" y="688" width="1" height="3"/>
<rect x="69" y="684" width="1" height="4"/>
<rect x="77" y="682" width="1" height="6"/>
<rect x="85" y="681" width="1" height="7"/>
<rect x="93" y="682" width="1" height="6"/>
<rect x="117" y="680" width="1" height="8"/>
<rect x="125" y="674" width="1" height="14"/>
<rect x="133" y="669" width="1" height="19"/>
<rect x="141" y="664" width="1" height="24"/>
<rect x="149" y="658" width="1" height="30"/>
<rect x="157" y="652" width="1" height="36"/>
<rect x="165" y="650" width="1" height="38"/>
<rect x="173" y="648" width="1" height="40"/>
<rect x="181" y="646" width="1" height="42"/>
<rect x="189" y="641" width="1" height="47"/>
<rect x="197" y="635" width="1" height="53"/>
<rect x="205" y="624" width="1" height="64"/>
<rect x="213" y="622" width="1" height="66"/>
<rect x="221" y="622" width="1" height="66"/>
<rect x="229" y="622" width="1" height="66"/>
<rect x="237" y="623" width="1" height="65"/>
<rect x="245" y="633" width="1" height="55"/>
<rect x="253" y="642" width="1" height="46"/>
<rect x="261" y="647" width="1" height="41"/>
<rect x="269" y="654" width="1" height="34"/>
<rect x="277" y="663" width="1" height="25"/>
<rect x="285" y="672" width="1" height="16"/>
<rect x="293" y="675" width="1" height="13"/>
<rect x="301" y="680" width="1" height="8"/>
<rect x="309" y="684" width="1" height="4"/>
<rect x="325" y="688" width="1" height="3"/>
<rect x="333" y="688" width="1" height="6"/>
<rect x="341" y="688" width="1" height="12"/>
<rect x="349" y="688" width="1" height="16"/>
<rect x="357" y="688" width="1" height="21"/>
<rect x="365" y="688" width="1" height="26"/>
<rect x="373" y="688" width="1" height="28"/>
<rect x="381" y="688" width="1" height="31"/>
<rect x="389" y="688" width="1" height="33"/>
<rect x="397" y="688" width="1" height="25"/>
<rect x="405" y="688" width="1" height="23"/>
<rect x="413" y="688" width="1" height="21"/>
<rect x="421" y="688" width="1" height="21"/>
<rect x="429" y="688" width="1" height="20"/>
<rect x="437" y="688" width="1" height="11"/>
<rect x="445" y="688" width="1" height="7"/>
<rect x="453" y="688" width="1" height="3"/>
<rect x="461" y="688" width="1" height="1"/>
<rect x="469" y="687" width="1" height="1"/>
<rect x="477" y="684" width="1" height="4"/>
<rect x="485" y="684" width="1" height="4"/>
<rect x="493" y="680" width="1" height="8"/>
<rect x="501" y="678" width="1" height="10"/>
<rect x="509" y="676" width="1" height="12"/>
<rect x="517" y="672" width="1" height="16"/>
<rect x="525" y="652" width="1" height="36"/>
<rect x="533" y="637" width="1" height="51"/>
<rect x="541" y="621" width="1" height="67"/>
<rect x="549" y="610" width="1" height="78"/>
<rect x="557" y="606" width="1" height="82"/>
<rect x="565" y="601" width="1" height="87"/>
<rect x="573" y="600" width="1" height="88"/>
<rect x="581" y="598" width="1" height="90"/>
<rect x="589" y="598" width="1" height="90"/>
<rect x="597" y="598" width="1" height="90"/>
<rect x="605" y="604" width="1" height="84"/>
<rect x="613" y="605" width="1" height="83"/>
<rect x="621" y="609" width="1" height="79"/>
<rect x="629" y="618" width="1" height="70"/>
<rect x="637" y="622" width="1" height="66"/>
<rect x="645" y="625" width="1" height="63"/>
<rect x="653" y="626" width="1" height="62"/>
<rect x="661" y="627" width="1" height="61"/>
<rect x="669" y="629" width="1" height="59"/>
<rect x="677" y="633" width="1" height="55"/>
<rect x="685" y="638" width="1" height="50"/>
<rect x="693" y="642" width="1" height="46"/>
<rect x="701" y="645" width="1" height="43"/>
<rect x="709" y="649" width="1" height="39"/>
<rect x="717" y="652" width="1" height="36"/>
<rect x="725" y="654" width="1" height="34"/>
<rect x="733" y="657" width="1" height="31"/>
<rect x="741" y="663" width="1" height="25"/>
<rect x="749" y="663" width="1" height="25"/>
<rect x="757" y="665" width="1" height="23"/>
<rect x="765" y="669" width="1" height="19"/>
<rect x="773" y="677" width="1" height="11"/>
<rect x="781" y="682" width="1" height="6"/>
<rect x="789" y="686" width="1" height="2"/>
<rect x="821" y="688" width="1" height="6"/>
<rect x="829" y="688" width="1" height="10"/>
<rect x="837" y="688" width="1" height="13"/>
<rect x="845" y="688" width="1" height="15"/>
<rect x="853" y="688" width="1" height="15"/>
<rect x="861" y="688" width="1" height="16"/>
<rect x="869" y="688" width="1" height="16"/>
<rect x="877" y="688" width="1" height="17"/>
<rect x="885" y="688" width="1" height="15"/>
<rect x="893" y="688" width="1" height="15"/>
<rect x="901" y="688" width="1" height="13"/>
<rect x="909" y="688" width="1" height="12"/>
<rect x="917" y="688" width="1" height="7"/>
<rect x="925" y="688" width="1" height="5"/>
<rect x="933" y="688" width="1" height="4"/>
<rect x="941" y="688" width="1" height="1"/>
<rect x="957" y="684" width="1" height="4"/>
<rect x="965" y="681" width="1" height="7"/>
<rect x="973" y="680" width="1" height="8"/>
<rect x="981" y="682" width="1" height="6"/>
<rect x="989" y="683" width="1" height="5"/>
<rect x="997" y="684" width="1" height="4"/>
<rect x="1005" y="684" width="1" height="4"/>
<rect x="1013" y="683" width="1" height="5"/>
<rect x="1021" y="683" width="1" height="5"/>
<rect x="1029" y="683" width="1" height="5"/>
<rect x="1037" y="683" width="1" height="5"/>
<rect x="1045" y="683" width="1" height="5"/>
<rect x="1053" y="683" width="1" height="5"/>
<rect x="1061" y="687" width="1" height="1"/>
<rect x="1069" y="688" width="1" height="5"/>
<rect x="1077" y="688" width="1" height="7"/>
<rect x="1085" y="688" width="1" height="10"/>
<rect x="1093" y="688" width="1" height="13"/>
<rect x="1101" y="688" width="1" height="16"/>
<rect x="1109" y="688" width="1" height="20"/>
<rect x="1117" y="688" width="1" height="22"/>
<rect x="1125" y="688" width="1" height="27"/>
<rect x="1133" y="688" width="1" height="29"/>
<rect x="1141" y="688" width="1" height="35"/>
<rect x="1149" y="688" width="1" height="40"/>
<rect x="1157" y="688" width="1" height="54"/>
<rect x="1165" y="688" width="1" height="63"/>
<rect x="1173" y="688" width="1" height="70"/>
<rect x="1181" y="688" width="1" height="72"/>
<rect x="1189" y="688" width="1" height="72"/>
<rect x="1197" y="688" width="1" height="73"/>
<rect x="1205" y="688" width="1" height="59"/>
<rect x="1213" y="688" width="1" height="52"/>
<rect x="1221" y="688" width="1" height="45"/>
<rect x="1229" y="688" width="1" height="37"/>
<rect x="1237" y="688" width="1" height="35"/>
<rect x="1245" y="688" width="1" height="29"/>
<rect x="1253" y="688" width="1" height="23"/>
<rect x="1261" y="688" width="1" height="18"/>
<rect x="1269" y="688" width="1" height="15"/>
<rect x="1277" y="688" width="1" height="10"/>
<rect x="1285" y="688" width="1" height="6"/>
<rect x="1293" y="688" width="1" height="3"/>
<rect x="1301" y="678" width="1" height="10"/>
<rect x="1309" y="666" width="1" height="22"/>
<rect x="1317" y="657" width="1" height="31"/>
<rect x="1325" y="648" width="1" height="40"/>
<rect x="1333" y="643" width="1" height="45"/>
<rect x="1341" y="637" width="1" height="51"/>
<rect x="1349" y="633" width="1" height="55"/>
<rect x="1357" y="634" width="1" height="54"/>
<rect x="1365" y="634" width="1" height="54"/>
<rect x="1373" y="633" width="1" height="55"/>
<rect x="1381" y="631" width="1" height="57"/>
</g>
<polyline points="3,684.7 10,686.7 21.1,690 29.1,692.5 37.2,694.3 45.2,695.3 53.3,695 61.3,694.5 69.3,693 80.4,691.8 85.4,689.2 93.4,688.2 101.5,687.2 109.5,686 117.3,684.7 125.3,682.2 133.4,680 141.4,678.7 149.5,674.9 157.5,672.4 165.5,667.9 173.3,664.6 181.4,660.4 189.4,655.3 197.4,650.8 205.5,645.3 213.5,641 221.6,637 229.6,633.2 237.6,631.7 245.7,629.2 253.5,628.5 261.5,629 269.5,631 277.6,634.7 285.4,640.8 293.4,646.5 301.4,652.8 309.5,659.1 317.5,665.4 325.5,671.7 333.6,677.2 341.6,682.5 349.4,687.2 357.4,691.8 365.5,696 373.5,700.5 381.6,704.3 389.6,708.1 397.6,709.8 400,711.4 407.5,712.6 415.1,713.6 423.9,714.4 431.4,713.6 440.2,711.4 447.7,708.1 456.5,704.3 465.3,701.3 475.4,697.5 485.4,693.8 493.4,690 501.5,687.5 509.5,684.7 517.3,681.7 525.3,675.9 533.4,671.7 541.4,665.4 549.5,656.6 557.5,647.8 565.5,638.5 573.3,630.7 581.4,622.2 589.4,613.4 597.4,607.6 605.5,603.1 613.5,601.3 621.6,601.3 629.6,603.1 637.6,605.6 645.7,607.6 653.5,611.4 661.5,614.4 669.5,617.2 677.6,621.4 685.4,623.9 693.4,627.7 701.4,631.5 709.5,634.5 717.5,637.2 725.5,640.3 733.6,643.3 741.6,646 749.4,650.3 757.4,653.3 765.5,656.6 773.5,660.4 781.6,664.1 789.6,667.4 797.6,671.2 800,671.7 807.5,675.9 815.1,679.2 823.9,682.5 831.4,686.2 837.7,688.5 845.2,691.8 853.3,694.3 861.3,696.8 869.3,698.5 877.4,700.5 885.4,701.8 893.4,703.1 901.5,703.1 909.5,703.1 917.3,702.1 925.3,701.3 933.4,700 941.4,698.5 949.5,696.5 957.5,694.3 965.5,691.3 973.3,689.2 981.4,687.2 989.4,686 997.4,684.7 1005.5,683.5 1013.5,682.2 1021.6,682 1029.6,681.5 1037.6,682 1045.7,682.2 1053.5,682.2 1061.5,683 1069.5,684.2 1077.6,685.5 1085.4,686.7 1093.4,689.2 1101.4,690.5 1109.5,694.3 1117.5,697.5 1125.5,701.1 1133.6,705.1 1141.6,708.1 1149.4,711.9 1157.4,715.6 1165.5,721.9 1173.5,727.7 1181.6,734.5 1189.6,739.5 1197.6,744.5 1200,746.5 1207.5,749.5 1215.1,750.5 1223.9,750 1231.4,748.3 1237.7,745 1245.2,741.2 1253.3,735 1261.3,729.4 1269.3,723.2 1277.4,717.4 1285.4,712.6 1293.4,708.1 1301.5,701.8 1309.5,696.8 1317.3,690.5 1325.3,683.5 1333.4,675.9 1341.4,667.9 1349.5,661.1 1357.5,653.3 1365.5,647.8 1373.3,643.3 1381.4,638.5" fill="none" stroke="#ff0000" stroke-width="1" stroke-dasharray="3,3" shape-rendering="crispEdges"/>
<text x="1.6" y="785" font-size="9.3" fill="#000" textLength="67.6" lengthAdjust="spacingAndGlyphs">RSI(14) 68.3331</text>
<line x1="0" y1="805.5" x2="1625" y2="805.5" stroke="#c0c0c0" stroke-width="1" stroke-dasharray="3,3" shape-rendering="crispEdges"/>
<line x1="0" y1="852.5" x2="1625" y2="852.5" stroke="#c0c0c0" stroke-width="1" stroke-dasharray="3,3" shape-rendering="crispEdges"/>
<line x1="0" y1="908.5" x2="1625" y2="908.5" stroke="#c0c0c0" stroke-width="1" stroke-dasharray="3,3" shape-rendering="crispEdges"/>
<polyline points="0,857.9 5,852.4 13.1,861.7 21.1,860.4 29.1,859.7 37.2,856.7 45.2,850.9 53.3,842.8 61.3,841.6 69.3,840.3 77.4,843.6 85.4,846.6 93.4,849.9 101.5,868.5 109.5,852.9 117.3,834.6 125.3,835.6 133.4,833.3 141.4,832.3 149.5,827.8 157.5,826.5 165.5,829.5 173.3,829.5 181.4,827.3 189.4,819 197.4,816 205.5,806.4 213.5,827.3 221.6,828.5 229.6,829.5 237.6,828.3 245.7,852.4 253.5,850.9 261.5,847.4 269.5,852.9 277.6,862.2 285.4,863.7 293.4,852.4 301.4,859.2 309.5,859.2 317.5,861.2 325.5,861.2 333.6,861.2 341.6,870.5 349.4,869.2 357.4,874.2 365.5,876.8 373.5,873.2 381.6,874.2 389.6,875.5 397.6,846.1 405,857.2 413.1,857.4 421.1,861.7 429.1,858.4 437.2,838.3 445.2,848.4 453.3,846.1 461.3,848.4 469.3,846.6 477.4,843.3 485.4,849.6 493.4,842.8 501.5,841.6 509.5,841.6 517.3,835.8 525.3,810.2 533.4,810.2 541.4,806.4 549.5,808.2 557.5,818.2 565.5,816.2 573.3,819.5 581.4,816.2 589.4,818.2 597.4,818.5 605.5,829.3 613.5,825.3 621.6,829.5 629.6,842.3 637.6,836.6 645.7,833.3 653.5,830.3 661.5,829.5 669.5,832.3 677.6,839.6 685.4,842.6 693.4,840.8 701.4,840.6 709.5,841.6 717.5,839.6 725.5,838.3 733.6,841.6 741.6,857.4 749.4,840.8 757.4,846.1 765.5,850.4 773.5,867.2 781.6,860.4 789.6,859.2 797.6,859.2 805,854.7 813.1,856.2 821.1,867.2 829.1,868.5 837.2,866.7 845.2,865.5 853.3,863.7 861.3,865.5 869.3,861.7 877.4,867.2 885.4,856.7 893.4,859.2 901.5,855.4 909.5,856.2 917.3,842.3 925.3,845.4 933.4,852.1 941.4,847.9 949.5,844.1 957.5,834.6 965.5,839.1 973.3,844.1 981.4,853.4 989.4,852.1 997.4,851.6 1005.5,857.2 1013.5,843.3 1021.6,847.1 1029.6,847.4 1037.6,850.4 1045.7,849.1 1053.5,846.1 1061.5,866.2 1069.5,875.5 1077.6,864.7 1085.4,866.2 1093.4,869.5 1101.4,871.2 1109.5,878 1117.5,872.5 1125.5,881.3 1133.6,875.5 1141.6,885.5 1149.4,884.3 1157.4,900.6 1165.5,895.6 1173.5,895.3 1181.6,886.8 1189.6,882.3 1197.6,886.3 1205.1,849.6 1213,856.1 1220.9,855.3 1229.1,852.7 1237,860.3 1244.9,851.9 1253.1,850.5 1261,849.3 1268.9,851.3 1277.1,848.5 1285,845.4 1292.9,846.8 1301.1,825.9 1309,824.2 1316.9,825.3 1325.1,821.4 1333,825.3 1340.9,822.2 1349.1,823.6 1357,832.1 1364.9,832.1 1373.1,826.5 1381,823.9" fill="none" stroke="#1e90ff" stroke-width="1" shape-rendering="crispEdges"/>
<g shape-rendering="crispEdges">
<rect x="61" y="933" width="1" height="4" fill="#000"/>
<rect x="125" y="933" width="1" height="4" fill="#000"/>
<rect x="189" y="933" width="1" height="4" fill="#000"/>
<rect x="253" y="933" width="1" height="4" fill="#000"/>
<rect x="317" y="933" width="1" height="4" fill="#000"/>
<rect x="381" y="933" width="1" height="4" fill="#000"/>
<rect x="445" y="933" width="1" height="4" fill="#000"/>
<rect x="509" y="933" width="1" height="4" fill="#000"/>
<rect x="573" y="933" width="1" height="4" fill="#000"/>
<rect x="637" y="933" width="1" height="4" fill="#000"/>
<rect x="701" y="933" width="1" height="4" fill="#000"/>
<rect x="765" y="933" width="1" height="4" fill="#000"/>
<rect x="829" y="933" width="1" height="4" fill="#000"/>
<rect x="893" y="933" width="1" height="4" fill="#000"/>
<rect x="957" y="933" width="1" height="4" fill="#000"/>
<rect x="1021" y="933" width="1" height="4" fill="#000"/>
<rect x="1085" y="933" width="1" height="4" fill="#000"/>
<rect x="1149" y="933" width="1" height="4" fill="#000"/>
<rect x="1213" y="933" width="1" height="4" fill="#000"/>
<rect x="1277" y="933" width="1" height="4" fill="#000"/>
<rect x="1341" y="933" width="1" height="4" fill="#000"/>
</g>
<text x="-4.5" y="945.2" font-size="9.3" fill="#000" textLength="50.9" lengthAdjust="spacingAndGlyphs" xml:space="preserve" >13 Jun 2019</text>
<text x="60.5" y="945.2" font-size="9.3" fill="#000" textLength="53.5" lengthAdjust="spacingAndGlyphs" xml:space="preserve" >17 Jun 04:00</text>
<text x="124.5" y="945.2" font-size="9.3" fill="#000" textLength="53.5" lengthAdjust="spacingAndGlyphs" xml:space="preserve" >18 Jun 14:55</text>
<text x="188.5" y="945.2" font-size="9.3" fill="#000" textLength="53.5" lengthAdjust="spacingAndGlyphs" xml:space="preserve" >19 Jun 23:30</text>
<text x="252.5" y="945.2" font-size="9.3" fill="#000" textLength="53.5" lengthAdjust="spacingAndGlyphs" xml:space="preserve" >21 Jun 04:00</text>
<text x="316.5" y="945.2" font-size="9.3" fill="#000" textLength="53.5" lengthAdjust="spacingAndGlyphs" xml:space="preserve" >24 Jun 14:55</text>
<text x="380.5" y="945.2" font-size="9.3" fill="#000" textLength="53.5" lengthAdjust="spacingAndGlyphs" xml:space="preserve" >25 Jun 23:30</text>
<text x="444.5" y="945.2" font-size="9.3" fill="#000" textLength="53.5" lengthAdjust="spacingAndGlyphs" xml:space="preserve" >27 Jun 04:00</text>
<text x="508.5" y="945.2" font-size="9.3" fill="#000" textLength="53.5" lengthAdjust="spacingAndGlyphs" xml:space="preserve" >28 Jun 14:55</text>
<text x="572.5" y="945.2" font-size="9.3" fill="#000" textLength="45.3" lengthAdjust="spacingAndGlyphs" xml:space="preserve" >1 Jul 23:30</text>
<text x="636.5" y="945.2" font-size="9.3" fill="#000" textLength="45.3" lengthAdjust="spacingAndGlyphs" xml:space="preserve" >3 Jul 04:00</text>
<text x="700.5" y="945.2" font-size="9.3" fill="#000" textLength="45.3" lengthAdjust="spacingAndGlyphs" xml:space="preserve" >4 Jul 14:55</text>
<text x="764.5" y="945.2" font-size="9.3" fill="#000" textLength="45.3" lengthAdjust="spacingAndGlyphs" xml:space="preserve" >7 Jul 23:30</text>
<text x="828.5" y="945.2" font-size="9.3" fill="#000" textLength="45.3" lengthAdjust="spacingAndGlyphs" xml:space="preserve" >9 Jul 04:00</text>
<text x="892.5" y="945.2" font-size="9.3" fill="#000" textLength="50.4" lengthAdjust="spacingAndGlyphs" xml:space="preserve" >10 Jul 14:55</text>
<text x="956.5" y="945.2" font-size="9.3" fill="#000" textLength="49.7" lengthAdjust="spacingAndGlyphs" xml:space="preserve" >11 Jul 23:30</text>
<text x="1020.5" y="945.2" font-size="9.3" fill="#000" textLength="50.4" lengthAdjust="spacingAndGlyphs" xml:space="preserve" >15 Jul 04:00</text>
<text x="1084.5" y="945.2" font-size="9.3" fill="#000" textLength="50.4" lengthAdjust="spacingAndGlyphs" xml:space="preserve" >16 Jul 14:55</text>
<text x="1148.5" y="945.2" font-size="9.3" fill="#000" textLength="50.4" lengthAdjust="spacingAndGlyphs" xml:space="preserve" >17 Jul 23:30</text>
<text x="1212.5" y="945.2" font-size="9.3" fill="#000" textLength="50.4" lengthAdjust="spacingAndGlyphs" xml:space="preserve" >19 Jul 04:00</text>
<text x="1276.5" y="945.2" font-size="9.3" fill="#000" textLength="50.4" lengthAdjust="spacingAndGlyphs" xml:space="preserve" >22 Jul 14:55</text>
<text x="1340.5" y="945.2" font-size="9.3" fill="#000" textLength="50.4" lengthAdjust="spacingAndGlyphs" xml:space="preserve" >23 Jul 23:30</text>
</svg></body></html>
